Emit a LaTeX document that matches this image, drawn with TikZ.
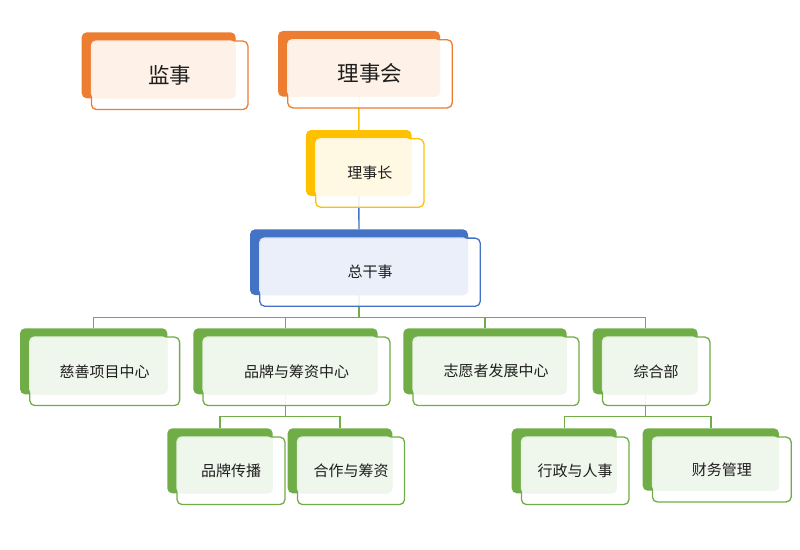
\documentclass[tikz,border=0pt]{standalone}
\usepackage{fontspec}
\setmainfont{Noto Sans CJK SC}
\usepackage{xcolor}
\usepackage{tikz}
\usetikzlibrary{backgrounds}
\definecolor{cOr}{HTML}{ED7D31}
\definecolor{cYe}{HTML}{FFC000}
\definecolor{cBl}{HTML}{4472C4}
\definecolor{cGr}{HTML}{70AD47}
\definecolor{txt}{HTML}{1E1E1E}
% [text options] name, x, y, width, height, colour, text
\newcommand{\orgbox}[8][]{%
 \node[bk, fill=#7, minimum width=#5, minimum height=#6] (#2) at (#3,#4) {};
 \node[fr, draw=#7, minimum width=#5+2.5, minimum height=#6+2.5] (#2-f) at ([shift={(11,10)}]#2.center) {};
 \fill[#7!11, fill opacity=0.93, rounded corners=5pt] (#2-f.north west) rectangle (#2.south east);
 \node[txt, #1] (#2-t) at (#2-f) {#8};}

\begin{document}
\begin{tikzpicture}[x=1pt, y=-1pt, font=\fontsize{15}{18}\selectfont,
  bk/.style={rounded corners=5pt, inner sep=0pt},
  fr/.style={rounded corners=5pt, inner sep=0pt, fill=white, fill opacity=0.9, line width=1.3pt},
  big/.style={font=\fontsize{21.5}{24}\selectfont},
  ln/.style={line width=1.4pt}]
 \useasboundingbox (0,0) rectangle (800,549);
 % boards
 \orgbox[big]{js}{158.7}{65.3}{154}{66}{cOr}{监事}
 \orgbox[big]{lsh}{359}{63.8}{162}{65.7}{cOr}{理事会}
 \orgbox{lsz}{358.8}{163}{105.7}{66}{cYe}{理事长}
 \orgbox{zgs}{359}{262.2}{218}{65.7}{cBl}{总干事}
 % centres
 \orgbox{csh}{93.7}{361.3}{147.3}{66}{cGr}{慈善项目中心}
 \orgbox{pp}{285.5}{361.3}{184.4}{66}{cGr}{品牌与筹资中心}
 \orgbox{zy}{485}{361.3}{163.4}{66}{cGr}{志愿者发展中心}
 \orgbox{zh}{645.2}{361.3}{105}{66}{cGr}{综合部}
 % departments
 \orgbox{ppc}{220}{460.8}{105.4}{65}{cGr}{品牌传播}
 \orgbox{hz}{340}{460.8}{104.6}{65}{cGr}{合作与筹资}
 \orgbox{xz}{564.2}{460.8}{105}{65}{cGr}{行政与人事}
 \orgbox{cw}{710.8}{459.5}{136.3}{62.4}{cGr}{财务管理}
 % connectors
 \begin{scope}[on background layer]
 \draw[ln, cYe] (lsh.south) -- (lsz.north);
 \draw[ln, cBl] (lsz.south) -- (zgs.north);
 \draw[ln, cGr] (zgs.south) -- ++(0,22.3) coordinate (bus0);
 \draw[ln, cGr] (bus0) -| (csh.north);
 \draw[ln, cGr] (bus0) -| (pp.north);
 \draw[ln, cGr] (bus0) -| (zy.north);
 \draw[ln, cGr] (bus0) -| (zh.north);
 \draw[ln, cGr] (pp.south) -- ++(0,22.2) coordinate (bus1);
 \draw[ln, cGr] (bus1) -| (ppc.north);
 \draw[ln, cGr] (bus1) -| (hz.north);
 \draw[ln, cGr] (zh.south) -- ++(0,22.2) coordinate (bus2);
 \draw[ln, cGr] (bus2) -| (xz.north);
 \draw[ln, cGr] (bus2) -| (cw.north);
 \end{scope}
\end{tikzpicture}
\end{document}
